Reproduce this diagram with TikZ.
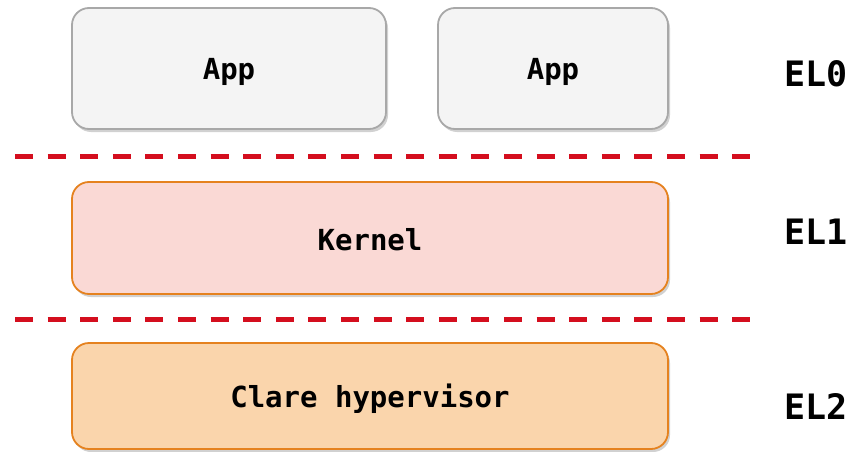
\documentclass[tikz,border=0pt]{standalone}
\usepackage{fontspec}
\setmonofont{DejaVu Sans Mono}
\usetikzlibrary{shadows}
\definecolor{appfill}{HTML}{F4F4F4}
\definecolor{appdraw}{HTML}{A8A8A8}
\definecolor{kfill}{HTML}{FAD9D5}
\definecolor{hfill}{HTML}{FAD5AC}
\definecolor{odraw}{HTML}{E5821F}
\definecolor{dashred}{HTML}{D40E1E}
\tikzset{
  box/.style={rounded corners=17pt, line width=1.8pt,
    drop shadow={shadow xshift=2pt, shadow yshift=-3pt, opacity=0.18, fill=black}},
  appbox/.style={box, fill=appfill, draw=appdraw},
  kbox/.style={box, fill=kfill, draw=odraw},
  hbox/.style={box, fill=hfill, draw=odraw},
  lbl/.style={font=\ttfamily\bfseries\fontsize{29}{32}\selectfont, text=black},
  ellbl/.style={font=\ttfamily\bfseries\fontsize{35}{40}\selectfont, text=black},
  sep/.style={draw=dashred, line width=5pt, dash pattern=on 18pt off 14.6pt}
}
\begin{document}
\begin{tikzpicture}[x=1pt,y=-1pt]
\useasboundingbox (0,0) rectangle (856,452);
\path[appbox] (72,8) rectangle (386,129);
\path[appbox] (438,8) rectangle (668,129);
\path[kbox] (72,182) rectangle (668,294);
\path[hbox] (72,343) rectangle (668,449);
\node[lbl] (app1) at (229,72) {App};
\node[lbl] (app2) at (553,72) {App};
\node[lbl] (kernel) at (370,240) {Kernel};
\node[lbl] (hyp) at (370,399) {Clare hypervisor};
\node[ellbl] (el0) at (816,74) {EL0};
\node[ellbl] (el1) at (816,232) {EL1};
\node[ellbl] (el2) at (816,407) {EL2};
\coordinate (s1a) at (15,156);
\coordinate (s1b) at (752,156);
\coordinate (s2a) at (15,319);
\coordinate (s2b) at (752,319);
\draw[sep] (s1a) -- (s1b);
\draw[sep] (s2a) -- (s2b);
\end{tikzpicture}
\end{document}
